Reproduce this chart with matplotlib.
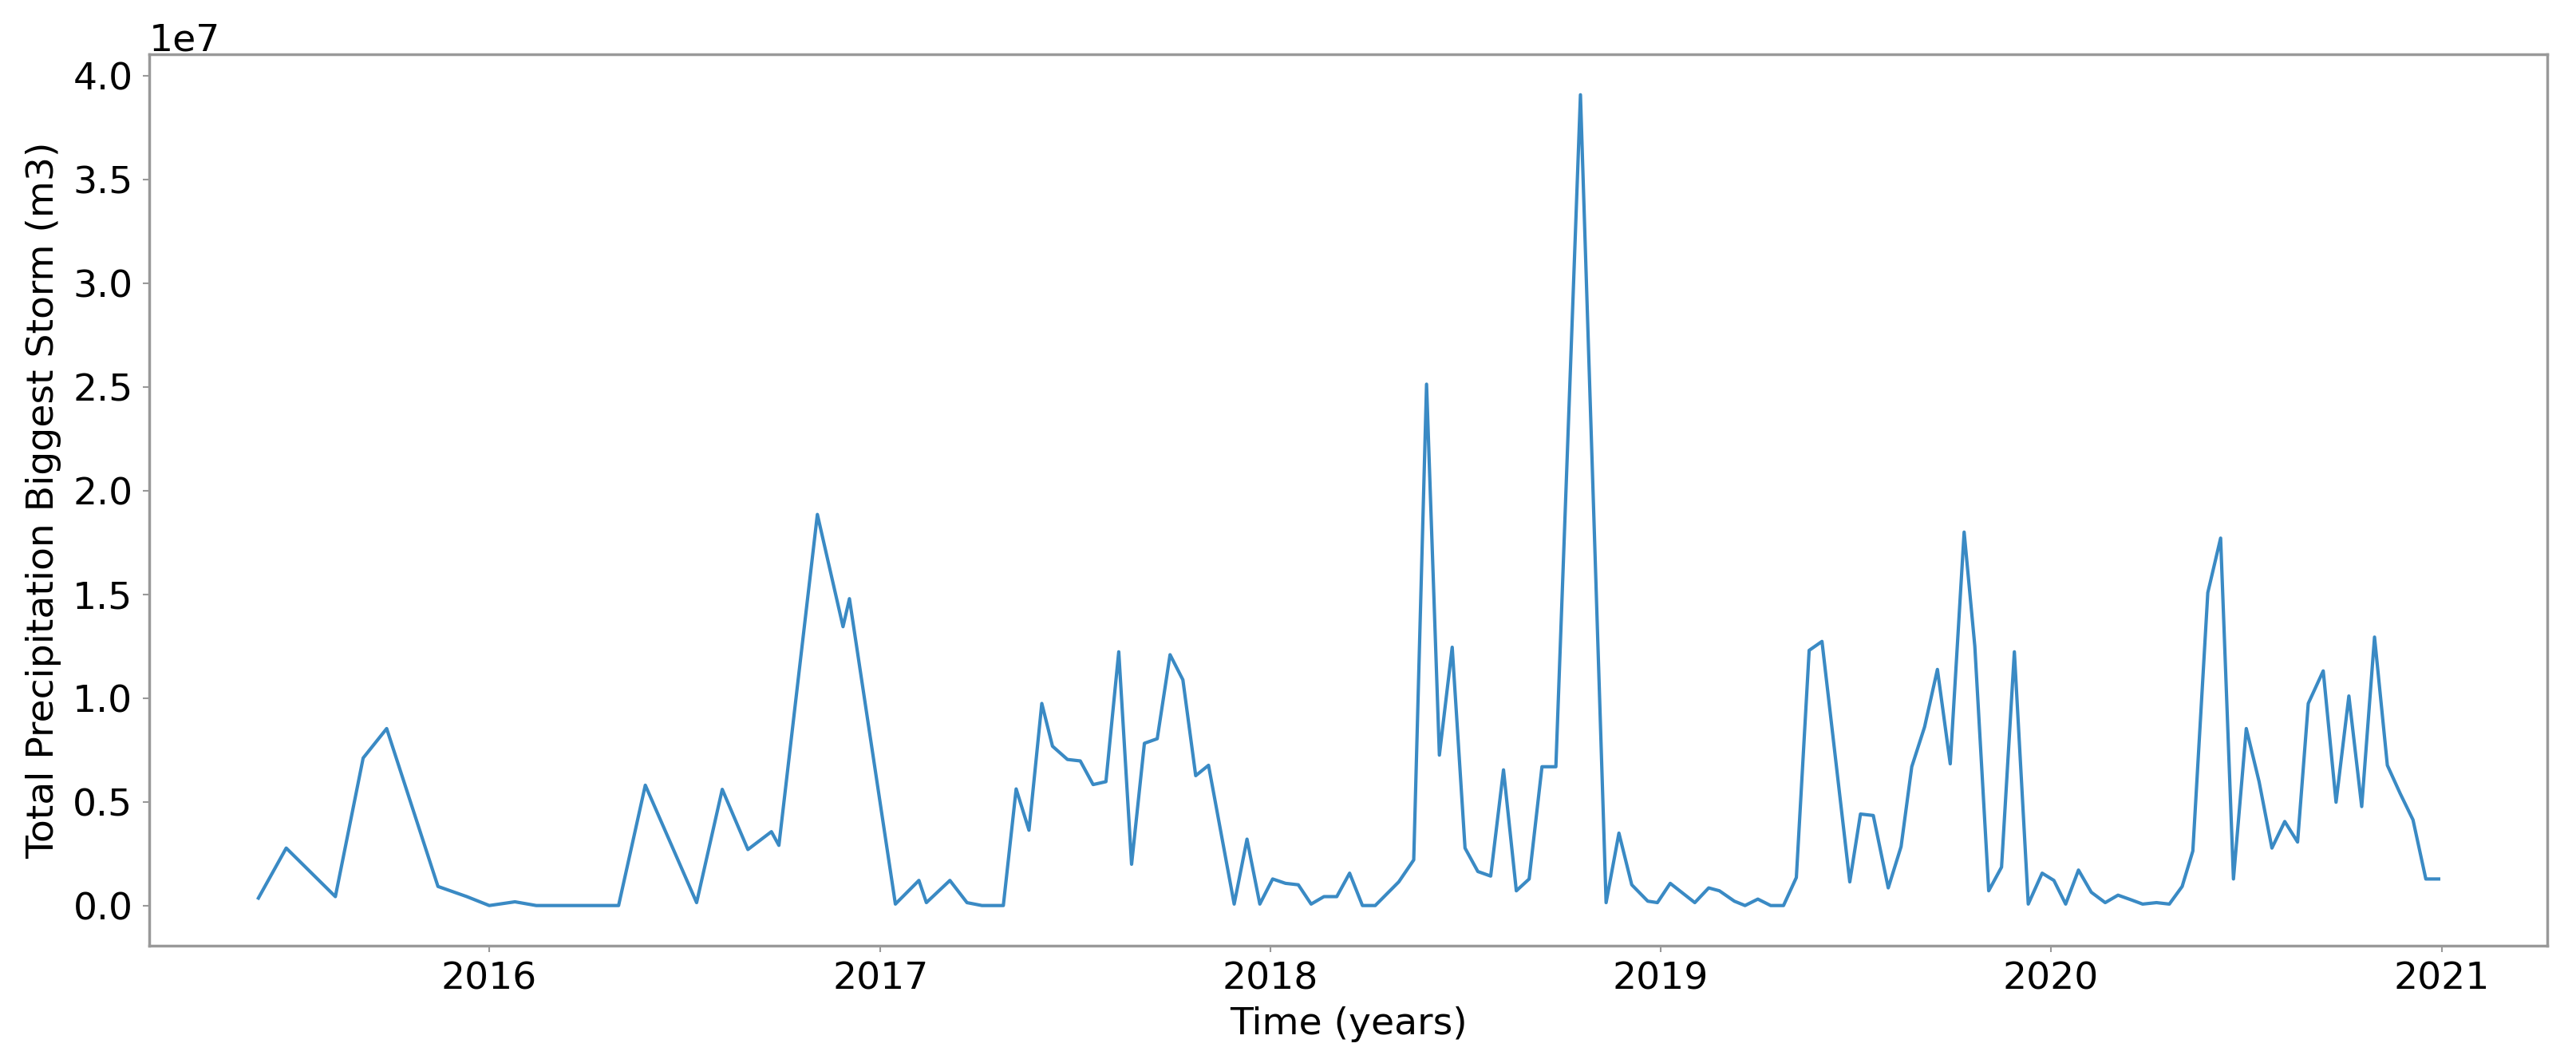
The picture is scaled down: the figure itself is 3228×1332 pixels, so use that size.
import numpy as np
import pandas as pd
import matplotlib
matplotlib.use("Agg")
import matplotlib.pyplot as plt

# Dates of the biggest storm (12-day steps)
dates = [
    "2015-05-30", "2015-06-25", "2015-08-10", "2015-09-05", "2015-09-27", "2015-11-14",
    "2015-12-11", "2016-01-01", "2016-01-25", "2016-02-14", "2016-03-25", "2016-05-01",
    "2016-05-26", "2016-07-13", "2016-08-06", "2016-08-30", "2016-09-21", "2016-09-28",
    "2016-11-03", "2016-11-27", "2016-12-03", "2017-01-15", "2017-02-06", "2017-02-13",
    "2017-03-07", "2017-03-23", "2017-04-06", "2017-04-26", "2017-05-08", "2017-05-20",
    "2017-06-01", "2017-06-11", "2017-06-25", "2017-07-07", "2017-07-19", "2017-07-31",
    "2017-08-12", "2017-08-24", "2017-09-05", "2017-09-17", "2017-09-29", "2017-10-11",
    "2017-10-23", "2017-11-04", "2017-11-28", "2017-12-10", "2017-12-22", "2018-01-03",
    "2018-01-15", "2018-01-27", "2018-02-08", "2018-02-20", "2018-03-04", "2018-03-16",
    "2018-03-28", "2018-04-09", "2018-05-01", "2018-05-15", "2018-05-27", "2018-06-08",
    "2018-06-20", "2018-07-02", "2018-07-14", "2018-07-26", "2018-08-07", "2018-08-19",
    "2018-08-31", "2018-09-12", "2018-09-25", "2018-10-18", "2018-11-11", "2018-11-23",
    "2018-12-05", "2018-12-20", "2018-12-29", "2019-01-10", "2019-02-02", "2019-02-15",
    "2019-02-25", "2019-03-11", "2019-03-21", "2019-04-02", "2019-04-14", "2019-04-26",
    "2019-05-08", "2019-05-20", "2019-06-01", "2019-06-27", "2019-07-07", "2019-07-19",
    "2019-08-02", "2019-08-14", "2019-08-24", "2019-09-05", "2019-09-17", "2019-09-29",
    "2019-10-12", "2019-10-22", "2019-11-04", "2019-11-16", "2019-11-28", "2019-12-11",
    "2019-12-24", "2020-01-04", "2020-01-15", "2020-01-27", "2020-02-08", "2020-02-21",
    "2020-03-04", "2020-03-16", "2020-03-27", "2020-04-09", "2020-04-21", "2020-05-03",
    "2020-05-13", "2020-05-27", "2020-06-08", "2020-06-20", "2020-07-02", "2020-07-14",
    "2020-07-26", "2020-08-07", "2020-08-19", "2020-08-29", "2020-09-12", "2020-09-24",
    "2020-10-06", "2020-10-18", "2020-10-30", "2020-11-11", "2020-11-23", "2020-12-05",
    "2020-12-17", "2020-12-29",
]

# Total precipitation of the biggest storm, in units of 1e7 m3
precip = [
    0.036, 0.277, 0.043, 0.711, 0.853, 0.092,
    0.043, 0.000, 0.018, 0.000, 0.000, 0.000,
    0.580, 0.014, 0.560, 0.270, 0.356, 0.290,
    1.885, 1.344, 1.479, 0.007, 0.121, 0.014,
    0.121, 0.014, 0.000, 0.000, 0.562, 0.363,
    0.974, 0.768, 0.704, 0.697, 0.583, 0.597,
    1.223, 0.199, 0.782, 0.804, 1.209, 1.088,
    0.626, 0.676, 0.007, 0.320, 0.007, 0.128,
    0.107, 0.100, 0.007, 0.043, 0.043, 0.156,
    0.000, 0.000, 0.114, 0.220, 2.513, 0.725,
    1.245, 0.277, 0.164, 0.142, 0.654, 0.071,
    0.128, 0.669, 0.669, 3.908, 0.014, 0.349,
    0.100, 0.021, 0.014, 0.107, 0.014, 0.085,
    0.071, 0.021, 0.000, 0.031, 0.000, 0.000,
    0.135, 1.230, 1.273, 0.114, 0.441, 0.434,
    0.085, 0.284, 0.669, 0.861, 1.138, 0.683,
    1.800, 1.250, 0.071, 0.185, 1.223, 0.007,
    0.156, 0.121, 0.007, 0.171, 0.064, 0.014,
    0.050, 0.028, 0.007, 0.014, 0.007, 0.092,
    0.263, 1.508, 1.771, 0.128, 0.853, 0.597,
    0.277, 0.405, 0.306, 0.974, 1.131, 0.498,
    1.010, 0.477, 1.294, 0.676, 0.540, 0.413,
    0.128, 0.128,
]

time = pd.to_datetime(dates)
values = np.array(precip) * 1e7

plt.rcParams["font.size"] = 34

fig, ax = plt.subplots(figsize=(32.28, 13.32), dpi=100)
fig.subplots_adjust(left=0.058, right=0.989, top=0.949, bottom=0.110)

ax.plot(time, values, color="#3a8ac4", linewidth=3.0)

ax.set_xlabel("Time (years)", labelpad=8)
ax.set_ylabel("Total Precipitation Biggest Storm (m3)", labelpad=10)

for spine in ax.spines.values():
    spine.set_color("#999999")
    spine.set_linewidth(2.5)
ax.tick_params(length=6, width=1.5, color="#999999")
ax.tick_params(axis="x", pad=8)
ax.tick_params(axis="y", pad=9)

fig.savefig("out.png", dpi=100)
